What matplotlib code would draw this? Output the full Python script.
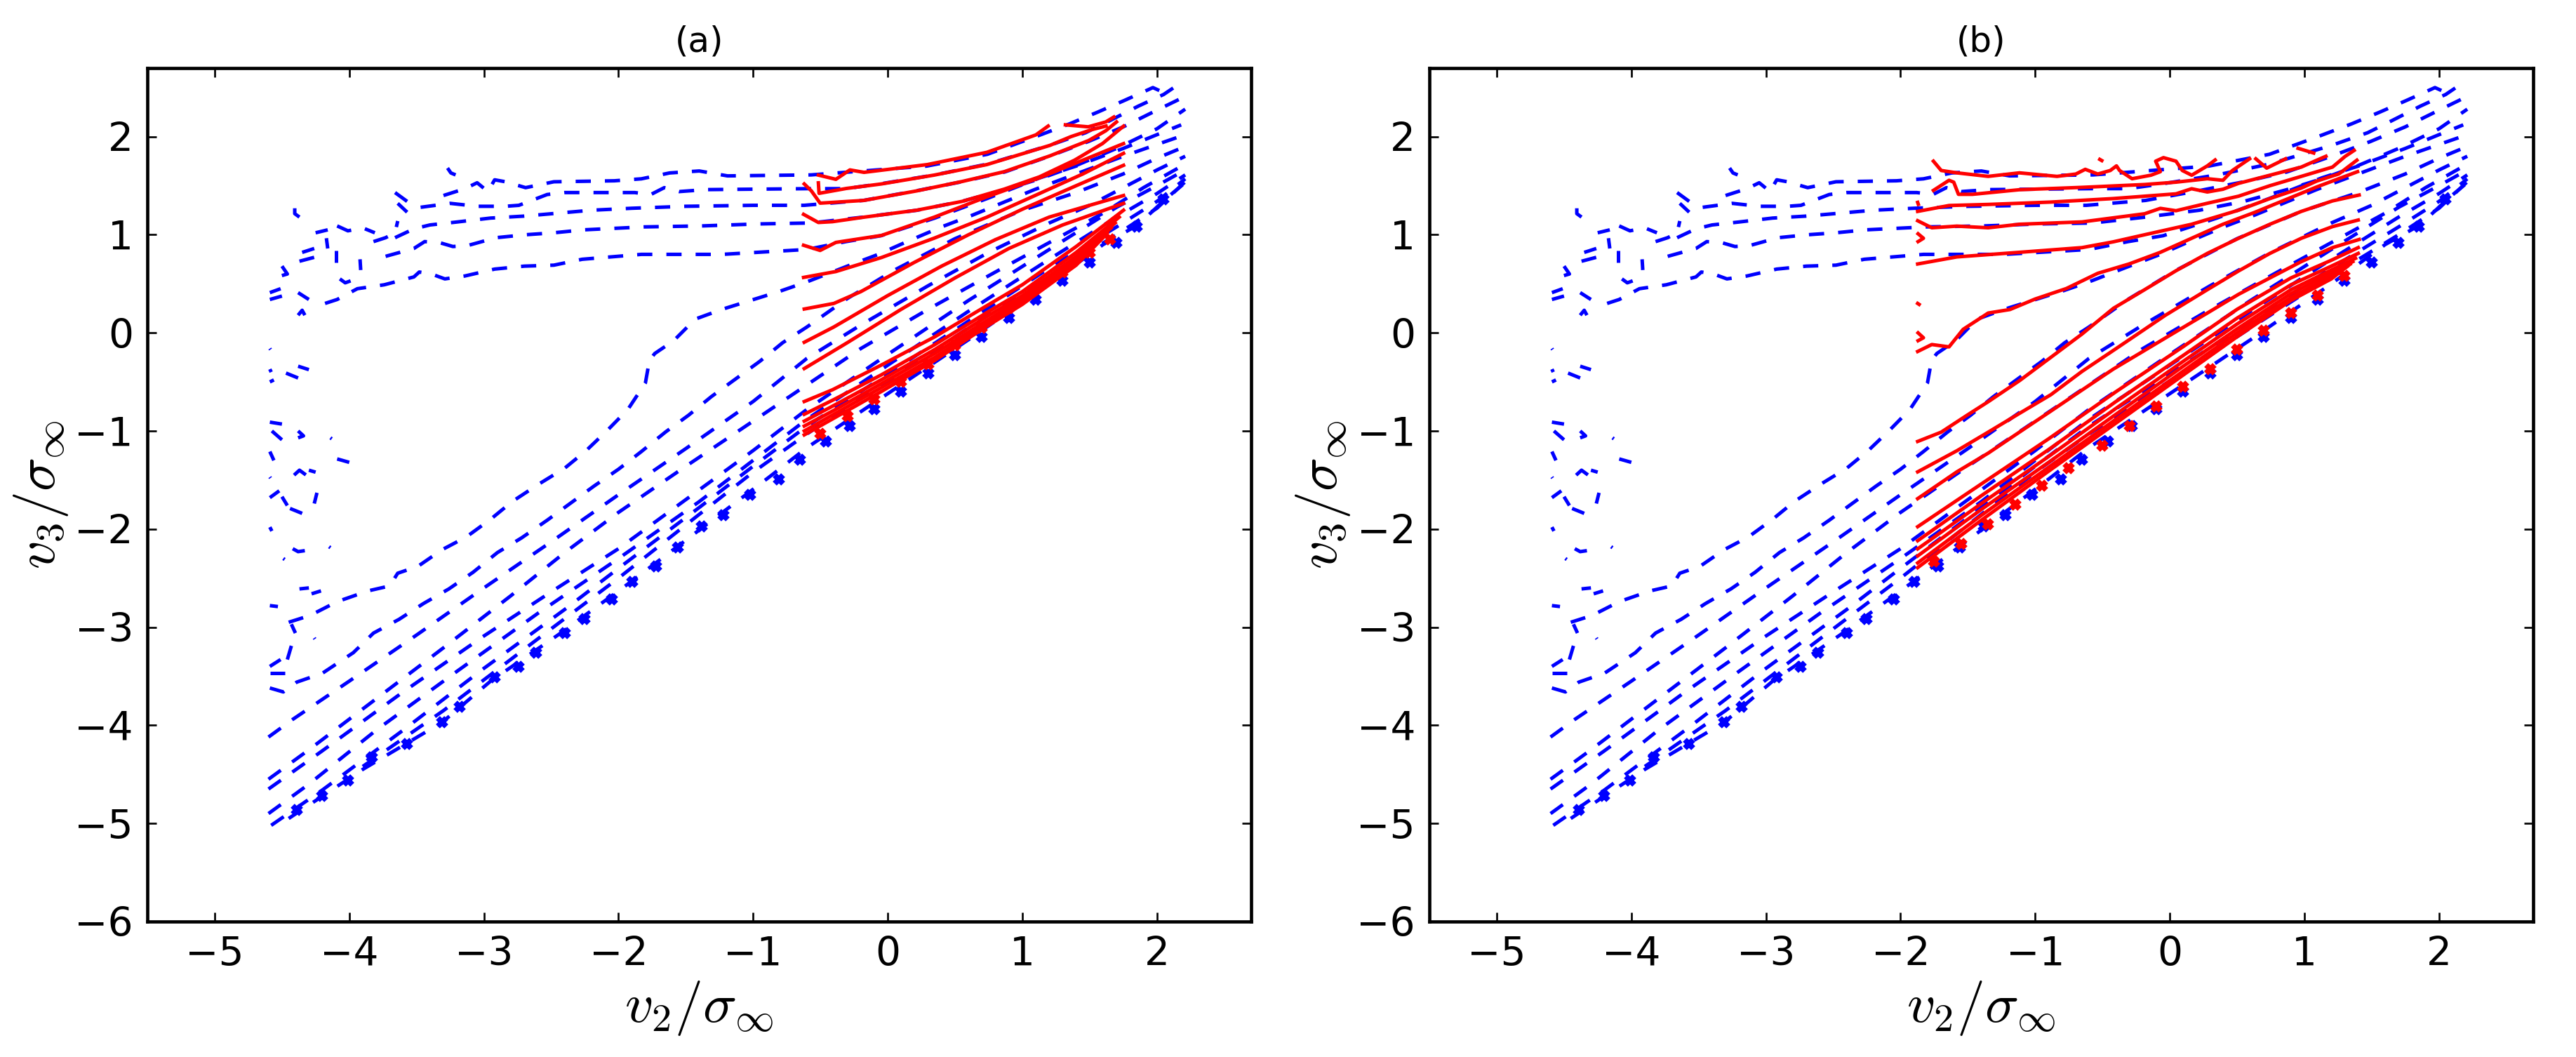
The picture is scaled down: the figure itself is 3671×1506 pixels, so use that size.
import matplotlib
matplotlib.use('Agg')
import matplotlib.pyplot as plt

# ---- blue (model) contours, same in both panels: lists of (v2, v3) ----
blue_A = [(-3.30, 1.40), (-3.14, 1.47), (-3.05, 1.53), (-2.97, 1.44), (-2.92, 1.56), (-2.84, 1.54),
          (-2.69, 1.48), (-2.48, 1.54), (-2.03, 1.55), (-1.83, 1.57), (-1.62, 1.63), (-1.40, 1.65),
          (-1.19, 1.60), (-0.57, 1.61), (-0.28, 1.64), (0.29, 1.70), (0.74, 1.82), (1.10, 2.00),
          (1.35, 2.13), (1.56, 2.25), (1.76, 2.37), (1.97, 2.50), (2.05, 2.45)]
blue_A_hook = [(-3.27, 1.68), (-3.245, 1.63), (-3.21, 1.61)]
blue_B = [(-3.47, 1.28), (-3.25, 1.32), (-3.05, 1.29), (-2.84, 1.29), (-2.74, 1.30), (-2.53, 1.41),
          (-2.40, 1.43), (-1.88, 1.43), (-1.76, 1.41), (-1.66, 1.48), (-1.55, 1.44), (-1.35, 1.46),
          (-0.57, 1.47), (-0.31, 1.47), (-0.05, 1.52), (0.35, 1.61), (0.74, 1.72), (1.20, 1.91),
          (1.47, 2.04), (1.66, 2.17), (1.86, 2.31), (2.05, 2.43), (2.19, 2.56)]
blue_C = [(-3.66, 0.97), (-3.52, 1.06), (-3.40, 1.10), (-3.20, 1.13), (-2.95, 1.17), (-2.70, 1.19),
          (-2.45, 1.22), (-2.20, 1.25), (-1.90, 1.27), (-1.50, 1.29), (-1.00, 1.30), (-0.62, 1.30),
          (-0.18, 1.35), (0.22, 1.45), (0.55, 1.54), (0.87, 1.64), (1.20, 1.80), (1.49, 1.95),
          (1.75, 2.10), (2.00, 2.27), (2.21, 2.41)]
blue_D = [(-3.73, 0.78), (-3.52, 0.86), (-3.44, 0.93), (-3.33, 0.92), (-3.23, 0.88), (-3.12, 0.89),
          (-2.91, 0.97), (-2.69, 1.00), (-2.48, 1.02), (-2.26, 1.05), (-1.81, 1.08), (-1.38, 1.09),
          (-0.97, 1.11), (-0.57, 1.12), (-0.18, 1.18), (0.22, 1.25), (0.55, 1.34), (0.87, 1.46),
          (1.13, 1.57), (1.39, 1.70), (1.70, 1.88), (2.00, 2.08), (2.21, 2.28)]
blue_E = [(-4.18, 0.30), (-4.09, 0.34), (-3.94, 0.45), (-3.74, 0.49), (-3.52, 0.57), (-3.48, 0.62),
          (-3.39, 0.60), (-3.29, 0.55), (-3.14, 0.58), (-2.92, 0.65), (-2.70, 0.68), (-2.48, 0.69),
          (-2.27, 0.75), (-1.83, 0.80), (-1.23, 0.80), (-0.60, 0.85), (-0.31, 0.93), (-0.05, 0.99),
          (0.35, 1.17), (0.74, 1.37), (1.13, 1.58), (1.40, 1.70), (1.75, 1.88), (2.00, 2.02),
          (2.18, 2.12)]
blue_G = [(-4.45, -2.95), (-4.29, -2.88), (-4.09, -2.74), (-3.86, -2.63), (-3.70, -2.58),
          (-3.64, -2.45), (-3.49, -2.38), (-3.31, -2.21), (-3.13, -2.08), (-2.95, -1.90),
          (-2.79, -1.72), (-2.59, -1.54), (-2.40, -1.38), (-2.24, -1.20), (-2.08, -0.99),
          (-1.93, -0.78), (-1.80, -0.51), (-1.77, -0.28), (-1.73, -0.21), (-1.59, -0.08),
          (-1.43, 0.14), (-1.23, 0.24), (-1.02, 0.33), (-0.81, 0.42), (-0.60, 0.52), (-0.30, 0.68),
          (-0.07, 0.80), (0.16, 0.94), (0.40, 1.08), (0.63, 1.20), (0.86, 1.33), (1.09, 1.46),
          (1.40, 1.62), (1.75, 1.80), (2.00, 1.92), (2.21, 2.02)]
blue_D1 = [(-4.59, -3.62), (-4.49, -3.66), (-4.39, -3.56), (-4.20, -3.47), (-3.97, -3.26),
           (-3.82, -3.06), (-3.63, -2.92), (-3.45, -2.76), (-3.26, -2.61), (-3.08, -2.44),
           (-2.90, -2.24), (-2.72, -2.09), (-2.53, -1.91), (-2.35, -1.73), (-2.18, -1.56),
           (-2.00, -1.39), (-1.83, -1.21), (-1.65, -1.01), (-1.48, -0.84), (-1.31, -0.65),
           (-1.13, -0.47), (-0.95, -0.29), (-0.78, -0.10), (-0.60, 0.06), (-0.30, 0.35),
           (0.05, 0.64), (0.50, 0.96), (0.98, 1.24), (1.40, 1.43), (1.75, 1.62), (2.00, 1.78),
           (2.21, 1.90)]
blue_D2 = [(-4.60, -4.12), (-4.42, -3.94), (-4.00, -3.55), (-3.50, -3.08), (-3.00, -2.60),
           (-2.50, -2.13), (-2.00, -1.65), (-1.50, -1.18), (-1.00, -0.70), (-0.60, -0.26),
           (-0.20, 0.08), (0.30, 0.48), (0.75, 0.82), (1.20, 1.12), (1.50, 1.30), (1.75, 1.48),
           (2.00, 1.66), (2.21, 1.80)]
blue_D3 = [(-4.60, -4.55), (-4.30, -4.25), (-3.80, -3.73), (-3.30, -3.21), (-2.80, -2.68),
           (-2.40, -2.24), (-2.00, -1.83), (-1.50, -1.36), (-1.00, -0.90), (-0.60, -0.53),
           (-0.20, -0.16), (0.30, 0.24), (0.80, 0.62), (1.20, 0.92), (1.60, 1.22), (1.90, 1.48),
           (2.21, 1.72)]
blue_D4 = [(-4.60, -4.65), (-4.20, -4.26), (-3.60, -3.66), (-3.00, -3.09), (-2.50, -2.64),
           (-2.00, -2.20), (-1.50, -1.70), (-1.00, -1.20), (-0.60, -0.78), (0.00, -0.22),
           (0.60, 0.33), (1.20, 0.85), (1.70, 1.28), (2.00, 1.50), (2.21, 1.66)]
blue_D5 = [(-4.60, -4.90), (-4.30, -4.60), (-3.80, -4.05), (-3.20, -3.45), (-2.60, -2.86),
           (-2.00, -2.30), (-1.40, -1.72), (-1.00, -1.30), (-0.60, -0.88), (0.00, -0.33),
           (0.60, 0.22), (1.20, 0.75), (1.70, 1.18), (2.00, 1.42), (2.21, 1.61)]
blue_D6 = [(-4.58, -5.02), (-4.20, -4.66), (-3.60, -4.05), (-3.00, -3.42), (-2.40, -2.82),
           (-2.00, -2.40), (-1.40, -1.78), (-1.00, -1.36), (-0.60, -0.95), (0.00, -0.42),
           (0.60, 0.12), (1.20, 0.66), (1.70, 1.08), (2.00, 1.34), (2.21, 1.57)]
blue_D7 = [(-3.90, -4.42), (-3.30, -3.85), (-2.60, -3.12), (-2.00, -2.50), (-1.40, -1.85),
           (-1.00, -1.42), (-0.60, -1.03), (0.00, -0.49), (0.60, 0.05), (1.20, 0.58), (1.70, 1.00),
           (2.00, 1.27), (2.21, 1.54)]
blue_edge = [(-4.45, -4.95), (-3.90, -4.45), (-3.31, -3.97), (-2.95, -3.55), (-2.45, -3.08),
             (-1.93, -2.56), (-1.41, -2.02), (-0.89, -1.48), (-0.60, -1.17), (0.00, -0.62),
             (0.60, -0.07), (1.20, 0.50), (1.60, 0.90), (1.86, 1.10), (2.06, 1.36), (2.20, 1.52)]
blue_blob = [
    [(-4.405, 1.27), (-4.405, 1.215), (-4.37, 1.18)],
    [(-4.25, 1.02), (-4.16, 1.05)],
    [(-4.17, 0.965), (-4.16, 0.86)],
    [(-4.10, 0.84), (-4.10, 0.715)],
    [(-3.92, 0.75), (-3.915, 0.64)],
    [(-4.09, 1.09), (-4.01, 1.04), (-3.90, 1.07), (-3.81, 1.02)],
    [(-3.82, 0.93), (-3.73, 0.97), (-3.66, 1.02), (-3.64, 1.14)],
    [(-3.66, 1.43), (-3.57, 1.34)],
    [(-3.64, 1.32), (-3.57, 1.23)],
    [(-4.35, 0.82), (-4.26, 0.86)],
    [(-4.37, 0.73), (-4.26, 0.77)],
    [(-4.50, 0.68), (-4.46, 0.60), (-4.51, 0.58)],
    [(-4.59, 0.41), (-4.51, 0.45)],
    [(-4.59, 0.34), (-4.50, 0.375)],
    [(-4.38, 0.41), (-4.30, 0.34)],
    [(-4.38, 0.18), (-4.35, 0.23), (-4.33, 0.18)],
    [(-4.07, 0.55), (-4.03, 0.51), (-3.99, 0.53)],
    [(-4.59, -0.16), (-4.585, -0.17)],
    [(-4.59, -0.37), (-4.58, -0.40)],
    [(-4.59, -0.50), (-4.56, -0.48)],
    [(-4.47, -0.41), (-4.38, -0.46)],
    [(-4.38, -0.34), (-4.30, -0.375)],
    [(-4.59, -0.91), (-4.50, -0.93)],
    [(-4.575, -1.00), (-4.50, -1.09)],
    [(-4.38, -1.00), (-4.34, -1.05), (-4.38, -1.07)],
    [(-4.14, -1.07), (-4.13, -1.08)],
    [(-4.09, -1.285), (-4.00, -1.32)],
    [(-4.59, -1.21), (-4.56, -1.30)],
    [(-4.59, -1.47), (-4.585, -1.48)],
    [(-4.41, -1.45), (-4.37, -1.40), (-4.32, -1.45)],
    [(-4.30, -1.40), (-4.25, -1.42)],
    [(-4.59, -1.68), (-4.52, -1.61)],
    [(-4.50, -1.67), (-4.46, -1.76)],
    [(-4.44, -1.79), (-4.35, -1.84)],
    [(-4.26, -1.74), (-4.24, -1.63)],
    [(-4.59, -1.98), (-4.575, -2.02)],
    [(-4.42, -2.20), (-4.38, -2.23), (-4.33, -2.22)],
    [(-4.15, -2.18), (-4.14, -2.19)],
    [(-4.49, -2.30), (-4.48, -2.31)],
    [(-4.37, -2.61), (-4.30, -2.60)],
    [(-4.28, -2.66), (-4.21, -2.63)],
    [(-4.59, -2.78), (-4.53, -2.79)],
    [(-4.43, -2.97), (-4.40, -3.06)],
    [(-4.26, -3.11), (-4.255, -3.12)],
    [(-4.46, -3.33), (-4.43, -3.19)],
    [(-4.59, -3.40), (-4.51, -3.33)],
    [(-4.59, -3.47), (-4.48, -3.47)],
]
# staircase blobs along the lower edge
blue_edge_x = [-4.39, -4.20, -4.01, -3.83, -3.57, -3.31, -3.18, -2.92, -2.74, -2.61, -2.40, -2.25,
               -2.05, -1.90, -1.72, -1.56, -1.38, -1.22, -1.02, -0.81, -0.65, -0.46, -0.28, -0.10,
               0.10, 0.30, 0.50, 0.70, 0.90, 1.10, 1.30, 1.50, 1.70, 1.85, 2.05]
blue_edge_y = [-4.86, -4.72, -4.56, -4.33, -4.19, -3.97, -3.81, -3.51, -3.40, -3.26, -3.06, -2.92,
               -2.72, -2.54, -2.38, -2.19, -1.97, -1.86, -1.65, -1.49, -1.29, -1.11, -0.95, -0.78,
               -0.60, -0.41, -0.23, -0.04, 0.15, 0.34, 0.53, 0.72, 0.92, 1.08, 1.36]

# ---- red (data) contours, panel (a) ----
red_a = [
    [(-0.515, 1.608), (-0.385, 1.565), (-0.281, 1.661), (-0.176, 1.636), (0.293, 1.715),
     (0.736, 1.840), (1.101, 2.018), (1.192, 2.108)],
    [(-0.515, 1.529), (-0.510, 1.422), (-0.307, 1.472), (-0.046, 1.518), (0.345, 1.608),
     (0.736, 1.715), (1.205, 1.911), (1.361, 2.000), (1.518, 2.072), (1.622, 2.108)],
    [(-0.620, 1.518), (-0.567, 1.447), (-0.502, 1.322), (-0.177, 1.350), (0.215, 1.447),
     (0.553, 1.543), (0.866, 1.643), (1.205, 1.804), (1.335, 1.875), (1.492, 1.960),
     (1.620, 2.060), (1.700, 2.150)],
    [(-0.625, 1.208), (-0.515, 1.125), (-0.411, 1.133), (-0.177, 1.179), (0.215, 1.250),
     (0.553, 1.340), (0.866, 1.465), (1.127, 1.590), (1.388, 1.760), (1.596, 1.930),
     (1.752, 2.107)],
    [(-0.625, 0.893), (-0.502, 0.840), (-0.385, 0.922), (-0.046, 0.993), (0.345, 1.179),
     (0.736, 1.386), (1.127, 1.580), (1.450, 1.760), (1.752, 1.929)],
    [(-0.625, 0.565), (-0.385, 0.625), (-0.046, 0.768), (0.345, 0.965), (0.736, 1.179),
     (1.127, 1.420), (1.450, 1.620), (1.752, 1.830)],
    [(-0.620, 0.243), (-0.400, 0.300), (-0.200, 0.420), (0.200, 0.720), (0.600, 1.000),
     (1.000, 1.260), (1.400, 1.500), (1.752, 1.708)],
    [(-0.620, -0.096), (-0.400, 0.060), (0.000, 0.380), (0.400, 0.680), (0.800, 0.950),
     (1.200, 1.180), (1.500, 1.300), (1.752, 1.400)],
    [(-0.620, -0.364), (-0.300, -0.100), (0.100, 0.240), (0.500, 0.560), (0.900, 0.860),
     (1.300, 1.100), (1.752, 1.320)],
    [(-0.62, -0.70), (-0.41, -0.58), (-0.05, -0.33), (0.35, -0.04), (0.74, 0.28), (1.00, 0.49),
     (1.40, 0.88), (1.752, 1.25)],
    [(-0.62, -0.83), (-0.40, -0.68), (-0.05, -0.43), (0.35, -0.12), (0.74, 0.21), (1.00, 0.42),
     (1.40, 0.82), (1.72, 1.18)],
    [(-0.62, -0.90), (-0.40, -0.74), (-0.05, -0.48), (0.35, -0.17), (0.74, 0.17), (1.00, 0.38),
     (1.40, 0.78), (1.69, 1.12)],
    [(-0.62, -0.95), (-0.40, -0.79), (-0.05, -0.52), (0.35, -0.21), (0.74, 0.13), (1.00, 0.35),
     (1.40, 0.75), (1.66, 1.07)],
    [(-0.62, -1.00), (-0.40, -0.83), (-0.05, -0.56), (0.35, -0.25), (0.74, 0.10), (1.00, 0.32),
     (1.40, 0.72), (1.63, 1.02)],
    [(-0.62, -1.04), (-0.40, -0.87), (-0.05, -0.60), (0.35, -0.28), (0.74, 0.07), (1.00, 0.29),
     (1.40, 0.69), (1.60, 0.97)],
    [(1.32, 2.12), (1.49, 2.10), (1.62, 2.15), (1.68, 2.20)],
]
red_a_edge_x = [-0.50, -0.30, -0.10, 0.10, 0.30, 0.50, 0.70, 0.90, 1.10, 1.30, 1.50, 1.65]
red_a_edge_y = [-1.03, -0.85, -0.68, -0.50, -0.32, -0.13, 0.05, 0.25, 0.45, 0.62, 0.82, 0.95]

# ---- red (data) contours, panel (b) ----
red_b = [
    [(-1.756, 1.750), (-1.698, 1.655), (-1.582, 1.631), (-1.349, 1.595), (-1.117, 1.631),
     (-0.838, 1.595), (-0.698, 1.619), (-0.628, 1.667), (-0.535, 1.619), (-0.442, 1.655),
     (-0.396, 1.702), (-0.373, 1.655), (-0.280, 1.571), (-0.140, 1.607), (-0.070, 1.643),
     (-0.105, 1.750), (-0.047, 1.786), (0.046, 1.750), (0.093, 1.655), (0.163, 1.607),
     (0.279, 1.702), (0.337, 1.762)],
    [(-1.756, 1.452), (-1.640, 1.555), (-1.605, 1.536), (-1.570, 1.412), (-1.466, 1.412),
     (-1.117, 1.459), (-0.652, 1.483), (-0.187, 1.512), (0.046, 1.536), (0.279, 1.571),
     (0.395, 1.555), (0.465, 1.655), (0.593, 1.774)],
    [(0.639, 1.774), (0.720, 1.679), (0.860, 1.774)],
    [(0.953, 1.881), (1.069, 1.833)],
    [(-1.873, 1.238), (-1.640, 1.298), (-1.349, 1.309), (-0.884, 1.333), (-0.419, 1.369),
     (0.046, 1.417), (0.162, 1.469), (0.279, 1.436), (0.395, 1.464), (0.511, 1.524),
     (0.744, 1.607), (0.977, 1.690), (1.116, 1.774), (1.160, 1.800)],
    [(-1.873, 1.143), (-1.768, 1.071), (-1.582, 1.088), (-1.349, 1.071), (-1.117, 1.107),
     (-0.652, 1.131), (-0.187, 1.214), (-0.070, 1.269), (0.046, 1.245), (0.279, 1.321),
     (0.511, 1.393), (0.744, 1.500), (0.977, 1.595), (1.209, 1.690), (1.302, 1.798),
     (1.370, 1.860)],
    [(-1.873, 0.702), (-1.582, 0.774), (-1.117, 0.821), (-0.652, 0.869), (-0.419, 0.928),
     (-0.187, 1.000), (0.162, 1.107), (0.511, 1.250), (0.744, 1.369), (0.977, 1.476),
     (1.093, 1.548), (1.256, 1.620), (1.390, 1.760)],
    [(-1.873, -0.190), (-1.768, -0.119), (-1.640, -0.143), (-1.535, 0.036), (-1.349, 0.202),
     (-1.187, 0.238), (-1.000, 0.345), (-0.768, 0.452), (-0.535, 0.607), (-0.303, 0.702),
     (-0.070, 0.821), (0.162, 0.964), (0.395, 1.107), (0.627, 1.226), (0.860, 1.357),
     (1.093, 1.488), (1.395, 1.643)],
    [(-1.873, -1.107), (-1.698, -1.012), (-1.512, -0.845), (-1.349, -0.702), (-1.117, -0.488),
     (-0.884, -0.250), (-0.652, -0.012), (-0.419, 0.250), (-0.187, 0.440), (0.046, 0.633),
     (0.279, 0.810), (0.511, 0.964), (0.744, 1.107), (0.977, 1.238), (1.209, 1.345),
     (1.407, 1.405)],
    [(-1.873, -1.417), (-1.582, -1.202), (-1.349, -1.012), (-1.117, -0.821), (-0.884, -0.631),
     (-0.652, -0.393), (-0.419, -0.179), (-0.187, 0.036), (-0.033, 0.179), (0.279, 0.440),
     (0.511, 0.631), (0.744, 0.810), (0.977, 0.964), (1.209, 1.083), (1.400, 1.150)],
    [(-1.873, -1.690), (-1.582, -1.417), (-1.349, -1.226), (-1.117, -1.012), (-0.884, -0.798),
     (-0.652, -0.583), (-0.419, -0.369), (-0.187, -0.179), (0.046, 0.012), (0.279, 0.202),
     (0.511, 0.393), (0.744, 0.560), (0.977, 0.726), (1.209, 0.869), (1.407, 0.952)],
    [(-1.873, -1.976), (-1.4, -1.54), (-0.9, -1.08), (-0.4, -0.60), (0.1, -0.14), (0.5, 0.24),
     (0.9, 0.56), (1.2, 0.74), (1.40, 0.869)],
    [(-1.873, -2.119), (-1.4, -1.66), (-0.9, -1.19), (-0.4, -0.70), (0.1, -0.23), (0.5, 0.15),
     (0.9, 0.49), (1.2, 0.68), (1.40, 0.81)],
    [(-1.873, -2.202), (-1.4, -1.74), (-0.9, -1.26), (-0.4, -0.77), (0.1, -0.29), (0.5, 0.09),
     (0.9, 0.44), (1.2, 0.64), (1.38, 0.76)],
    [(-1.873, -2.274), (-1.4, -1.80), (-0.9, -1.32), (-0.4, -0.83), (0.1, -0.34), (0.5, 0.04),
     (0.9, 0.40), (1.2, 0.61), (1.36, 0.726)],
    [(-1.873, -2.345), (-1.4, -1.86), (-0.9, -1.37), (-0.4, -0.88), (0.1, -0.39), (0.5, 0.00),
     (0.9, 0.36), (1.2, 0.58), (1.34, 0.70)],
    [(-1.873, -2.393), (-1.4, -1.91), (-0.9, -1.41), (-0.4, -0.92), (0.1, -0.43), (0.5, -0.04),
     (0.9, 0.33), (1.2, 0.55), (1.32, 0.678)],
    [(-1.873, 1.33), (-1.868, 1.31)],
    [(-1.870, 1.01), (-1.830, 0.964), (-1.870, 0.93)],
    [(-1.873, 0.30), (-1.862, 0.29)],
    [(-1.870, 0.00), (-1.830, -0.05), (-1.870, -0.08)],
    [(-0.520, 1.768), (-0.505, 1.756)],
]
red_b_edge_x = [-1.75, -1.55, -1.35, -1.15, -0.95, -0.75, -0.50, -0.30, -0.10, 0.10, 0.30, 0.50,
                0.70, 0.90, 1.10, 1.30]
red_b_edge_y = [-2.33, -2.15, -1.95, -1.75, -1.56, -1.38, -1.15, -0.95, -0.75, -0.55, -0.37, -0.17,
                0.02, 0.20, 0.38, 0.58]

blue_lines = [blue_A, blue_A_hook, blue_B, blue_C, blue_D, blue_E, blue_G, blue_D1, blue_D2,
              blue_D3, blue_D4, blue_D5, blue_D6, blue_D7, blue_edge] + blue_blob

titles = ['(a)', '(b)']
red_sets = [red_a, red_b]
red_edges = [(red_a_edge_x, red_a_edge_y), (red_b_edge_x, red_b_edge_y)]
xticks = [-5, -4, -3, -2, -1, 0, 1, 2]
yticks = [-6, -5, -4, -3, -2, -1, 0, 1, 2]

plt.rcParams['mathtext.fontset'] = 'cm'
plt.rcParams['lines.scale_dashes'] = False

fig = plt.figure(figsize=(3671 / 240, 1506 / 240), dpi=240)
lefts = [0.0572, 0.5549]

for i in range(2):
    ax = fig.add_axes([lefts[i], 0.1282, 0.4285, 0.8075])
    for ln in blue_lines:
        xs = [p[0] for p in ln]
        ys = [p[1] for p in ln]
        ax.plot(xs, ys, color='b', lw=1.5, linestyle='--', dashes=(6.5, 6))
    ax.plot(blue_edge_x, blue_edge_y, linestyle='none', marker='x', color='b', ms=3.5, mew=2.4)
    for ln in red_sets[i]:
        xs = [p[0] for p in ln]
        ys = [p[1] for p in ln]
        ax.plot(xs, ys, color='r', lw=1.5)
    ex, ey = red_edges[i]
    ax.plot(ex, ey, linestyle='none', marker='x', color='r', ms=3.5, mew=2.4)

    ax.set_xlim(-5.5, 2.7)
    ax.set_ylim(-6, 2.7)
    ax.set_xticks(xticks)
    ax.set_yticks(yticks)
    ax.tick_params(direction='in', top=True, right=True, length=4, width=0.8,
                   labelsize=17, pad=6)
    for sp in ax.spines.values():
        sp.set_linewidth(1.4)
    ax.set_title(titles[i], fontsize=15, pad=7)
    ax.set_xlabel(r'$v_2/\sigma_\infty$', fontsize=24, labelpad=2)
    ax.set_ylabel(r'$v_3/\sigma_\infty$', fontsize=24, labelpad=2)

fig.savefig('out.png', dpi=240)
